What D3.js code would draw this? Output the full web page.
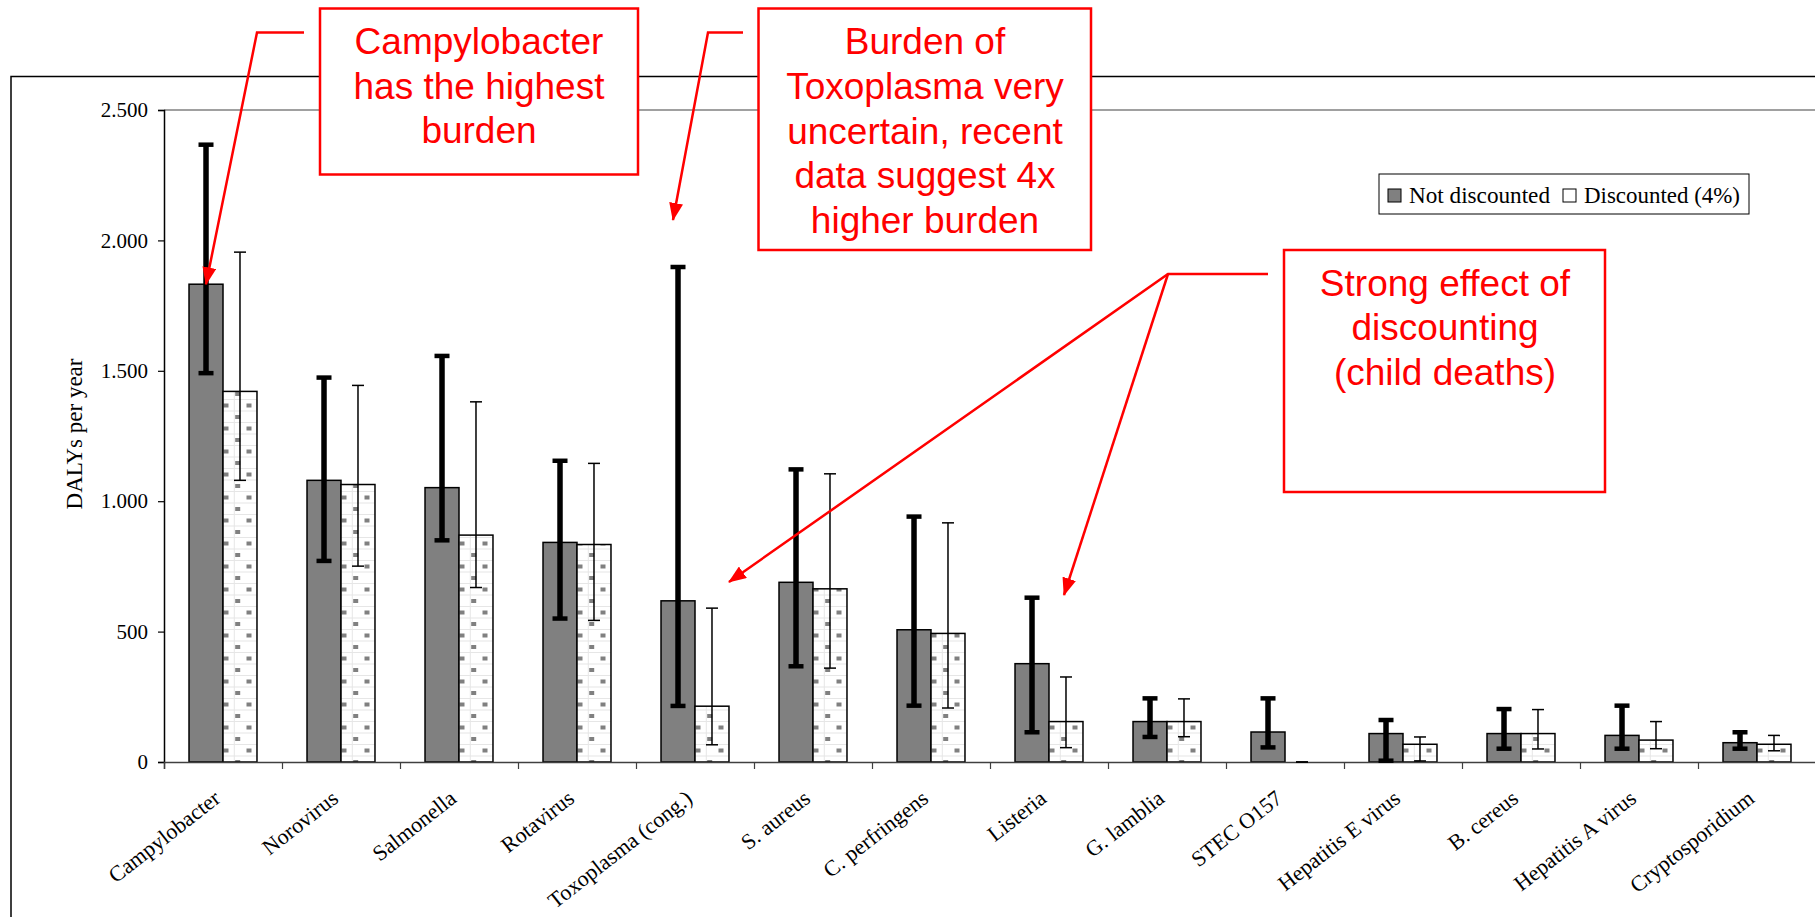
<!DOCTYPE html>
<html>
<head>
<meta charset="utf-8">
<script src="https://cdn.jsdelivr.net/npm/d3@7"></script>
<style>
  html, body { margin: 0; padding: 0; background: #fff; }
  svg { display: block; }
</style>
</head>
<body>
<svg id="chart" width="1815" height="917"></svg>
<script>
// ---------- data ----------
const categories = ["Campylobacter", "Norovirus", "Salmonella", "Rotavirus", "Toxoplasma (cong.)",
  "S. aureus", "C. perfringens", "Listeria", "G. lamblia", "STEC O157", "Hepatitis E virus",
  "B. cereus", "Hepatitis A virus", "Cryptosporidium"];
const seriesNames = ["Not discounted", "Discounted (4%)"];
const notDiscounted     = [1832, 1080, 1052, 842, 618, 689, 507, 377, 155, 115, 109, 109, 102, 74];
const notDiscountedLow  = [1491, 771, 850, 550, 215, 367, 216, 114, 96, 56, 5, 51, 51, 51];
const notDiscountedHigh = [2367, 1474, 1557, 1155, 1898, 1122, 941, 630, 244, 244, 161, 203, 216, 114];
const discounted        = [1421, 1064, 870, 834, 214, 664, 493, 155, 155, 0, 68, 109, 84, 68];
const discountedLow     = [1080, 751, 669, 543, 66, 360, 207, 55, 97, 0, 4, 50, 51, 43];
const discountedHigh    = [1955, 1444, 1381, 1145, 590, 1105, 917, 326, 242, 0, 96, 201, 155, 102];
const yTicks = [0, 500, 1000, 1500, 2000, 2500];
const yTickLabels = ["0", "500", "1.000", "1.500", "2.000", "2.500"];
const yTitle = "DALYs per year";
const notes = [
  ["Campylobacter", "has the highest", "burden"],
  ["Burden of", "Toxoplasma very", "uncertain, recent", "data suggest 4x", "higher burden"],
  ["Strong effect of", "discounting", "(child deaths)"]
];

// ---------- layout ----------
const svg = d3.select("#chart");
const plotLeft = 164, plotRight = 1816, plotTop = 110, plotBottom = 762;
const serif = "'Liberation Serif', 'Times New Roman', serif";
const sans = "'Liberation Sans', Arial, sans-serif";
const red = "#ff0000";

const x = d3.scaleBand().domain(categories).range([plotLeft, plotRight])
  .paddingInner(0.424).paddingOuter(0.212);
const xs = d3.scaleBand().domain(seriesNames).range([0, x.bandwidth()]);
const y = d3.scaleLinear().domain([0, 2500]).range([plotBottom, plotTop]);
const xIdx = d3.scaleLinear().domain([0, categories.length]).range([plotLeft, plotRight]);

const defs = svg.append("defs");

// per-bar dotted pattern for discounted series
const pats = defs.selectAll("pattern").data(categories).join("pattern")
  .attr("id", (d, i) => "pat" + i)
  .attr("patternUnits", "userSpaceOnUse")
  .attr("x", d => x(d) + xs(seriesNames[1]))
  .attr("y", plotBottom - 2)
  .attr("width", 23).attr("height", 23);
pats.append("rect").attr("width", 23).attr("height", 23).attr("fill", "#fff");
pats.append("line").attr("x1", 0).attr("x2", 23).attr("y1", 7.5).attr("y2", 7.5).attr("stroke", "#e6e6e6").attr("stroke-width", 1);
pats.append("line").attr("x1", 0).attr("x2", 23).attr("y1", 19).attr("y2", 19).attr("stroke", "#e6e6e6").attr("stroke-width", 1);
pats.append("line").attr("x1", 11.3).attr("x2", 11.3).attr("y1", 0).attr("y2", 23).attr("stroke", "#e6e6e6").attr("stroke-width", 1);
pats.append("rect").attr("x", 12.2).attr("y", 0).attr("width", 5).attr("height", 4).attr("fill", "#808080");
pats.append("rect").attr("x", 0.5).attr("y", 11.5).attr("width", 5).attr("height", 4).attr("fill", "#808080");

// arrow marker
defs.append("marker").attr("id", "arrow")
  .attr("markerUnits", "userSpaceOnUse")
  .attr("markerWidth", 18).attr("markerHeight", 14)
  .attr("refX", 17).attr("refY", 7).attr("orient", "auto")
  .append("path").attr("d", "M0,0 L18,7 L0,14 Z").attr("fill", red);

// outer frame
svg.append("rect").attr("x", 11).attr("y", 76.5).attr("width", 1830).attr("height", 900)
  .attr("fill", "none").attr("stroke", "#000").attr("stroke-width", 1.5);

// top border of plot area
svg.append("line").attr("x1", plotLeft).attr("x2", plotRight)
  .attr("y1", y(2500)).attr("y2", y(2500)).attr("stroke", "#808080").attr("stroke-width", 1.5);

// y axis
const yAxis = svg.append("g").attr("transform", `translate(${plotLeft},0)`)
  .call(d3.axisLeft(y).tickValues(yTicks).tickFormat((d, i) => yTickLabels[i]).tickSize(6).tickPadding(10));
yAxis.select(".domain").attr("stroke", "#000").attr("stroke-width", 1.5);
yAxis.selectAll(".tick line").attr("stroke", "#000").attr("stroke-width", 1.2);
yAxis.selectAll(".tick text").attr("font-family", serif).attr("font-size", 21).attr("fill", "#000");

svg.append("text").attr("transform", `translate(82,434) rotate(-90)`)
  .attr("text-anchor", "middle").attr("font-family", serif).attr("font-size", 23)
  .text(yTitle);

// bars
const bars = svg.append("g");
bars.selectAll("rect.nd").data(categories).join("rect").attr("class", "nd")
  .attr("x", d => x(d) + xs(seriesNames[0]))
  .attr("y", (d, i) => y(notDiscounted[i]))
  .attr("width", xs.bandwidth())
  .attr("height", (d, i) => y(0) - y(notDiscounted[i]))
  .attr("fill", "#808080").attr("stroke", "#000").attr("stroke-width", 1.5);
bars.selectAll("rect.d").data(categories).join("rect").attr("class", "d")
  .attr("x", d => x(d) + xs(seriesNames[1]))
  .attr("y", (d, i) => y(discounted[i]))
  .attr("width", xs.bandwidth())
  .attr("height", (d, i) => y(0) - y(discounted[i]))
  .attr("fill", (d, i) => `url(#pat${i})`).attr("stroke", "#000").attr("stroke-width", 1.5);

// x axis
const xAxis = svg.append("g").attr("transform", `translate(0,${plotBottom})`)
  .call(d3.axisBottom(xIdx).tickValues(d3.range(categories.length + 1)).tickFormat("").tickSize(7));
xAxis.select(".domain").attr("stroke", "#404040").attr("stroke-width", 1.5);
xAxis.selectAll(".tick line").attr("stroke", "#404040").attr("stroke-width", 1.2);

svg.append("g").selectAll("text").data(categories).join("text")
  .attr("transform", d => `translate(${x(d) + x.bandwidth() / 2 - 6},${plotBottom + 33}) rotate(-38)`)
  .attr("text-anchor", "end").attr("dy", "0.35em")
  .attr("font-family", serif).attr("font-size", 22).attr("fill", "#000")
  .text(d => d);

// error bars
function errorBars(cls, series, lo, hi, width, cap, capH) {
  const g = svg.append("g").attr("class", cls);
  const cx = d => x(d) + xs(series) + xs.bandwidth() / 2;
  g.selectAll("line.v").data(categories).join("line").attr("class", "v")
    .attr("x1", cx).attr("x2", cx)
    .attr("y1", (d, i) => y(lo[i])).attr("y2", (d, i) => y(hi[i]))
    .attr("stroke", "#000").attr("stroke-width", width);
  [lo, hi].forEach((arr, k) => {
    g.selectAll("line.c" + k).data(categories).join("line").attr("class", "c" + k)
      .attr("x1", d => cx(d) - cap / 2).attr("x2", d => cx(d) + cap / 2)
      .attr("y1", (d, i) => y(arr[i])).attr("y2", (d, i) => y(arr[i]))
      .attr("stroke", "#000").attr("stroke-width", capH);
  });
}
errorBars("eb-nd", seriesNames[0], notDiscountedLow, notDiscountedHigh, 5.5, 15, 4.5);
errorBars("eb-d", seriesNames[1], discountedLow, discountedHigh, 1.5, 12, 1.5);

// legend
const lg = svg.append("g");
lg.append("rect").attr("x", 1379).attr("y", 174).attr("width", 370).attr("height", 40)
  .attr("fill", "#fff").attr("stroke", "#000").attr("stroke-width", 1);
const lgX = [1388, 1563];
seriesNames.forEach((s, i) => {
  lg.append("rect").attr("x", lgX[i]).attr("y", 189).attr("width", 13).attr("height", 13)
    .attr("fill", i === 0 ? "#808080" : "#fff").attr("stroke", "#000").attr("stroke-width", 1);
  lg.append("text").attr("x", lgX[i] + 21).attr("y", 203)
    .attr("font-family", serif).attr("font-size", 23).attr("fill", "#000")
    .attr("textLength", i === 0 ? 141 : 156).attr("lengthAdjust", "spacingAndGlyphs").text(s);
});

// annotations (callouts)
const callouts = [
  { box: [320, 8.5, 318, 166], cx: 479, base: 54.3, lh: 44.5, lines: notes[0],
    paths: [[[304, 32.5], [257, 32.5], [x(categories[0]) + xs.bandwidth() / 2, y(notDiscounted[0])]]] },
  { box: [758.5, 8.5, 332.5, 241.5], cx: 925, base: 54.3, lh: 44.6, lines: notes[1],
    paths: [[[743, 32.5], [708, 32.5], [673, 220]]] },
  { box: [1284, 250, 321, 242], cx: 1445, base: 295.7, lh: 44.6, lines: notes[2],
    paths: [[[1268, 274], [1168, 274], [729, 582]], [[1168, 274], [1064, 595]]] }
];
const line = d3.line();
callouts.forEach(c => {
  c.paths.forEach(p => {
    svg.append("path").attr("d", line(p)).attr("fill", "none")
      .attr("stroke", red).attr("stroke-width", 2.5).attr("marker-end", "url(#arrow)");
  });
  svg.append("rect").attr("x", c.box[0]).attr("y", c.box[1]).attr("width", c.box[2]).attr("height", c.box[3])
    .attr("fill", "#fff").attr("stroke", red).attr("stroke-width", 2.5);
  c.lines.forEach((t, i) => {
    svg.append("text").attr("x", c.cx).attr("y", c.base + i * c.lh)
      .attr("text-anchor", "middle").attr("font-family", sans).attr("font-size", 37)
      .attr("fill", red).text(t);
  });
});
</script>
</body>
</html>
